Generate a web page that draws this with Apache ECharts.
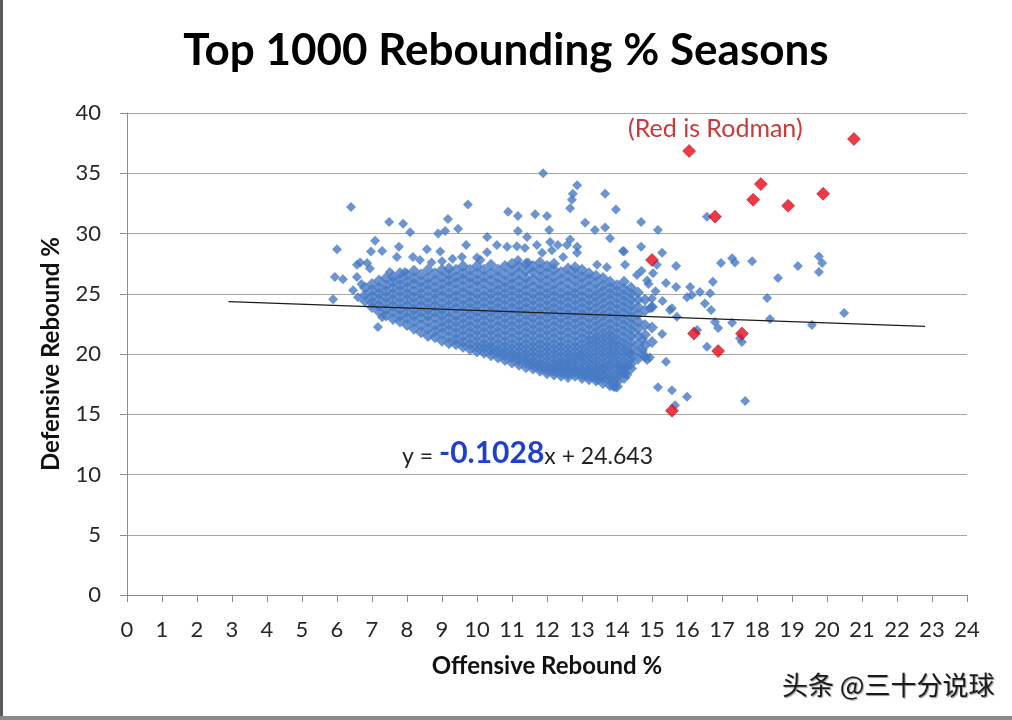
<!DOCTYPE html>
<html>
<head>
<meta charset="utf-8">
<script src="https://cdn.jsdelivr.net/npm/echarts@6/dist/echarts.min.js"></script>
<style>
html,body{margin:0;padding:0;background:#fff;}
#chart{width:1012px;height:720px;}
</style>
</head>
<body>
<div id="chart"></div>
<script>
// ---------- DATA ----------
const chartTitle = 'Top 1000 Rebounding % Seasons';
const xAxisName = 'Offensive Rebound %';
const yAxisName = 'Defensive Rebound %';
const xTicks = {min: 0, max: 24, step: 1};
const yTicks = {min: 0, max: 40, step: 5};

// Dense cloud of seasons, read column by column: [offensive %, [defensive % ...]]
const blueColumns = [
  [6.8, [24.4, 24.9, 25.5]],
  [7.0, [23.9, 24.3, 24.8, 25.3, 25.8]],
  [7.2, [23.5, 24.0, 24.5, 25.0, 25.5, 26.1]],
  [7.4, [23.2, 23.7, 24.2, 24.7, 25.2, 25.7, 26.3]],
  [7.6, [22.9, 23.5, 24.0, 24.5, 25.0, 25.5, 26.0, 26.4]],
  [7.8, [22.7, 23.2, 23.7, 24.2, 24.7, 25.2, 25.7, 26.2, 26.7]],
  [8.0, [22.4, 23.0, 23.5, 24.0, 24.5, 25.0, 25.5, 26.0, 26.6]],
  [8.2, [22.1, 22.7, 23.2, 23.7, 24.2, 24.7, 25.2, 25.8, 26.3, 26.9]],
  [8.4, [21.8, 22.4, 23.0, 23.5, 24.0, 24.5, 25.0, 25.5, 26.0, 26.6]],
  [8.6, [21.5, 22.1, 22.7, 23.2, 23.7, 24.2, 24.7, 25.3, 25.8, 26.3, 27.0]],
  [8.8, [21.4, 21.9, 22.4, 23.0, 23.5, 24.0, 24.5, 25.0, 25.5, 26.1, 26.7]],
  [9.0, [21.1, 21.7, 22.2, 22.7, 23.2, 23.7, 24.2, 24.8, 25.3, 25.8, 26.4, 27.0]],
  [9.2, [20.9, 21.4, 22.0, 22.5, 23.0, 23.5, 24.0, 24.5, 25.0, 25.6, 26.1, 26.6, 27.1]],
  [9.4, [20.8, 21.2, 21.7, 22.2, 22.7, 23.2, 23.8, 24.3, 24.8, 25.3, 25.9, 26.4, 27.0]],
  [9.6, [20.6, 21.0, 21.5, 22.0, 22.5, 23.0, 23.5, 24.0, 24.5, 25.1, 25.6, 26.2, 26.7, 27.3]],
  [9.8, [20.4, 20.8, 21.3, 21.8, 22.3, 22.8, 23.3, 23.8, 24.3, 24.8, 25.3, 25.9, 26.4, 27.0]],
  [10.0, [20.2, 20.6, 21.0, 21.5, 22.0, 22.5, 23.0, 23.5, 24.0, 24.5, 25.0, 25.6, 26.1, 26.7, 27.3]],
  [10.2, [20.1, 20.5, 20.8, 21.3, 21.8, 22.3, 22.8, 23.3, 23.8, 24.3, 24.8, 25.3, 25.9, 26.4, 27.0]],
  [10.4, [19.9, 20.3, 20.6, 21.0, 21.5, 22.0, 22.5, 23.0, 23.5, 24.0, 24.5, 25.0, 25.5, 26.1, 26.7, 27.4]],
  [10.6, [19.7, 20.1, 20.4, 20.8, 21.3, 21.8, 22.3, 22.8, 23.3, 23.8, 24.3, 24.8, 25.3, 25.8, 26.4, 27.0]],
  [10.8, [19.5, 19.9, 20.2, 20.6, 21.0, 21.5, 22.0, 22.5, 23.0, 23.5, 24.0, 24.5, 25.0, 25.5, 26.0, 26.6, 27.3]],
  [11.0, [19.3, 19.7, 20.0, 20.4, 20.8, 21.3, 21.8, 22.3, 22.8, 23.3, 23.8, 24.3, 24.8, 25.3, 25.8, 26.3, 26.9, 27.5]],
  [11.2, [19.1, 19.5, 19.8, 20.2, 20.6, 21.0, 21.5, 22.0, 22.5, 23.0, 23.5, 24.0, 24.5, 25.0, 25.5, 26.1, 26.7, 27.3]],
  [11.4, [18.9, 19.3, 19.6, 20.0, 20.4, 20.8, 21.3, 21.8, 22.3, 22.8, 23.3, 23.8, 24.3, 24.8, 25.3, 25.8, 26.3, 26.9, 27.5]],
  [11.6, [18.8, 19.1, 19.4, 19.8, 20.2, 20.6, 21.0, 21.5, 22.0, 22.5, 23.0, 23.5, 24.0, 24.5, 25.0, 25.6, 26.2, 26.8, 27.3]],
  [11.8, [18.6, 18.9, 19.2, 19.6, 20.0, 20.4, 20.8, 21.3, 21.8, 22.3, 22.8, 23.3, 23.8, 24.3, 24.8, 25.3, 25.8, 26.4, 27.0, 27.6]],
  [12.0, [18.4, 18.7, 19.0, 19.4, 19.8, 20.2, 20.6, 21.0, 21.5, 22.0, 22.5, 23.0, 23.5, 24.0, 24.5, 25.0, 25.5, 26.1, 26.7, 27.3]],
  [12.2, [18.3, 18.6, 18.9, 19.2, 19.6, 20.0, 20.4, 20.8, 21.3, 21.8, 22.3, 22.8, 23.3, 23.8, 24.3, 24.8, 25.3, 25.8, 26.4, 27.0, 27.5]],
  [12.4, [18.2, 18.5, 18.8, 19.1, 19.4, 19.8, 20.2, 20.6, 21.0, 21.5, 22.0, 22.5, 23.0, 23.5, 24.0, 24.5, 25.0, 25.6, 26.2, 26.8]],
  [12.6, [18.1, 18.4, 18.7, 19.0, 19.3, 19.6, 20.0, 20.4, 20.8, 21.3, 21.8, 22.3, 22.8, 23.3, 23.8, 24.3, 24.8, 25.3, 25.9, 26.5, 27.1]],
  [12.8, [18.2, 18.5, 18.8, 19.1, 19.5, 19.8, 20.2, 20.6, 21.0, 21.5, 22.0, 22.5, 23.0, 23.5, 24.0, 24.5, 25.0, 25.5, 26.1, 26.7, 27.2]],
  [13.0, [18.0, 18.3, 18.6, 18.9, 19.3, 19.7, 20.0, 20.4, 20.8, 21.3, 21.8, 22.3, 22.8, 23.3, 23.8, 24.3, 24.8, 25.3, 25.8, 26.4, 27.0]],
  [13.2, [17.9, 18.2, 18.5, 18.8, 19.2, 19.5, 19.9, 20.3, 20.7, 21.1, 21.5, 22.0, 22.5, 23.0, 23.5, 24.0, 24.5, 25.0, 25.6, 26.2, 26.7]],
  [13.4, [17.8, 18.1, 18.4, 18.7, 19.0, 19.4, 19.8, 20.2, 20.6, 21.0, 21.4, 21.8, 22.3, 22.8, 23.3, 23.8, 24.3, 24.8, 25.3, 25.9, 26.5]],
  [13.6, [17.6, 18.0, 18.3, 18.6, 18.9, 19.3, 19.7, 20.1, 20.5, 20.9, 21.3, 21.7, 22.2, 22.7, 23.2, 23.7, 24.2, 24.7, 25.2, 25.7, 26.3]],
  [13.8, [17.4, 17.8, 18.1, 18.5, 18.9, 19.2, 19.6, 20.0, 20.4, 20.8, 21.2, 21.6, 22.0, 22.5, 23.0, 23.5, 24.0, 24.5, 25.0, 25.5, 26.0]],
  [14.0, [17.3, 17.7, 18.1, 18.4, 18.8, 19.2, 19.6, 20.0, 20.4, 20.8, 21.2, 21.7, 22.2, 22.7, 23.2, 23.7, 24.2, 24.7, 25.2, 25.7]],
  [14.2, [18.0, 18.4, 18.9, 19.3, 19.7, 20.1, 20.5, 20.9, 21.4, 21.9, 22.4, 22.9, 23.4, 23.9, 24.4, 24.9, 25.4, 26.0]],
  [14.4, [18.8, 19.2, 19.6, 20.0, 20.5, 21.0, 21.5, 22.0, 22.5, 23.0, 23.5, 24.0, 24.5, 25.0, 25.5]],
  [14.6, [19.6, 20.2, 20.8, 21.5, 22.1, 22.7, 23.3, 23.9, 24.5, 25.1]],
  [14.8, [19.8, 20.7, 21.6, 22.4, 23.6, 24.5]],
  [15.0, [21.0, 22.2, 23.9]]
];

// Scattered seasons outside the dense cloud: [offensive %, defensive %]
const blueScatter = [
  [6.4, 32.2], [9.74, 32.4], [7.49, 30.95], [7.89, 30.8], [8.09, 30.1], [9.17, 31.2], [9.46, 30.4],
  [8.89, 30.0], [9.09, 30.2], [6.0, 28.7], [7.09, 29.4], [6.97, 28.5], [7.29, 28.55], [7.77, 28.9],
  [7.71, 28.05], [8.57, 28.7], [9.69, 29.05], [9.57, 28.05], [8.17, 28.05], [8.37, 27.8], [5.94, 26.4],
  [6.17, 26.2], [6.57, 26.4], [6.57, 27.4], [6.66, 27.6], [6.86, 27.55], [6.94, 27.1], [5.89, 24.55],
  [6.46, 25.3], [6.6, 24.7], [6.7, 25.8], [7.17, 22.25], [7.29, 23.05], [7.51, 26.8], [7.94, 26.8],
  [8.7, 27.6], [9.0, 27.7], [9.3, 27.9], [8.95, 28.5], [10.0, 28.0], [10.1, 27.8],
  [11.89, 35.0], [12.86, 34.0], [12.74, 33.3], [12.71, 32.8], [12.66, 32.1], [13.66, 33.3], [13.97, 32.0],
  [10.89, 31.8], [11.17, 31.45], [11.66, 31.6], [12.0, 31.45], [13.09, 30.9], [13.37, 30.3], [13.66, 30.5],
  [13.8, 29.6], [11.17, 30.2], [12.06, 30.3], [10.29, 29.7], [11.43, 29.7], [11.71, 29.05], [12.09, 29.3],
  [12.31, 29.05], [12.57, 29.05], [12.66, 29.5], [12.86, 28.9], [12.86, 28.4], [11.37, 28.8], [10.29, 28.45],
  [10.57, 29.05], [10.86, 28.9], [11.14, 28.95], [14.17, 28.55], [11.86, 28.4], [12.14, 28.6], [12.46, 28.05],
  [11.46, 27.6], [11.17, 27.8], [13.43, 27.4], [13.71, 27.2], [14.23, 27.4],
  [14.69, 30.95], [15.17, 30.3], [16.57, 31.4], [14.2, 28.5], [14.69, 28.9], [15.29, 28.4], [15.14, 27.4],
  [15.03, 26.7], [15.69, 27.3], [16.97, 27.55], [17.29, 27.95], [17.37, 27.6], [18.6, 26.3], [19.17, 27.3],
  [19.77, 28.1], [19.86, 27.55], [19.77, 26.8], [14.57, 26.55], [14.86, 26.1], [15.69, 25.55], [16.09, 25.55],
  [16.0, 24.7], [16.37, 25.15], [16.74, 26.0], [16.66, 25.05], [16.51, 24.2], [16.69, 23.65], [15.51, 23.65],
  [15.71, 23.1], [16.8, 22.65], [16.89, 22.15], [17.29, 22.6], [18.29, 24.65], [18.37, 22.9], [19.57, 22.4],
  [20.49, 23.4], [15.29, 21.65], [16.29, 22.0], [16.57, 20.6], [17.51, 21.3], [17.57, 21.0], [14.37, 20.1],
  [14.8, 19.75], [15.4, 19.35], [14.29, 18.9], [14.29, 18.25], [15.17, 17.25], [15.57, 17.0], [16.0, 16.45],
  [17.66, 16.1], [15.66, 15.75], [16.14, 24.9], [17.86, 27.7],
  [14.9, 25.8], [15.1, 25.2], [14.7, 26.9], [15.3, 24.4], [15.0, 24.6], [15.4, 25.9], [15.0, 23.9],
  [14.94, 23.8], [15.57, 23.8], [14.74, 21.2], [14.86, 19.5], [14.74, 20.3], [14.94, 19.7], [14.09, 18.9],
  [14.23, 18.4], [13.94, 17.25], [13.89, 17.3], [13.46, 17.85], [14.17, 18.5]
];

// Rodman seasons (red)
const rodman = [
  [16.06, 36.85], [20.77, 37.84], [18.11, 34.1], [17.89, 32.8], [18.89, 32.3], [19.89, 33.3],
  [16.8, 31.4], [15.0, 27.8], [16.2, 21.7], [17.57, 21.7], [16.89, 20.25], [15.57, 15.3]
];

// Linear trendline as drawn (start and end)
const trendLine = [[2.9, 24.34], [22.8, 22.30]];
const trendSlope = '-0.1028';
const trendIntercept = '24.643';
const noteText = '(Red is Rodman)';
const watermark = '头条 @三十分说球';

// ---------- BUILD ----------
const denseData = [];
blueColumns.forEach(([x, ys]) => ys.forEach(y => denseData.push([x, y])));

const FONT = 'Lato, "Open Sans", sans-serif';
const BLUE = '#4679c4';
const chart = echarts.init(document.getElementById('chart'), null, {renderer: 'canvas'});

chart.setOption({
  backgroundColor: '#ffffff',
  animation: false,
  title: {
    text: chartTitle,
    left: 'center',
    top: 24,
    textStyle: {fontFamily: FONT, fontSize: 44, fontWeight: 'bold', color: '#000'}
  },
  grid: {left: 127, right: 45, top: 113, bottom: 125, containLabel: false},
  xAxis: {
    type: 'value',
    min: xTicks.min, max: xTicks.max, interval: xTicks.step,
    name: xAxisName,
    nameLocation: 'middle',
    nameGap: 59,
    nameTextStyle: {fontFamily: FONT, fontSize: 24, fontWeight: 'bold', color: '#111'},
    axisLine: {show: true, lineStyle: {color: '#8c8c8c', width: 1}},
    axisTick: {show: true, inside: false, length: 7, lineStyle: {color: '#8c8c8c'}},
    axisLabel: {fontFamily: FONT, fontSize: 22, color: '#262626', margin: 24},
    splitLine: {show: false}
  },
  yAxis: {
    type: 'value',
    min: yTicks.min, max: yTicks.max, interval: yTicks.step,
    name: yAxisName,
    nameLocation: 'middle',
    nameGap: 64,
    nameTextStyle: {fontFamily: FONT, fontSize: 24, fontWeight: 'bold', color: '#111'},
    axisLine: {show: true, lineStyle: {color: '#8c8c8c', width: 1}},
    axisTick: {show: true, inside: false, length: 7, lineStyle: {color: '#8c8c8c'}},
    axisLabel: {fontFamily: FONT, fontSize: 22, color: '#262626', margin: 26},
    splitLine: {show: true, lineStyle: {color: '#a6a6a6', width: 1}}
  },
  series: [
    {
      name: 'All (dense)',
      type: 'scatter',
      data: denseData,
      symbol: 'diamond',
      symbolSize: 12,
      itemStyle: {color: BLUE},
      z: 2
    },
    {
      name: 'All (scattered)',
      type: 'scatter',
      data: blueScatter,
      symbol: 'diamond',
      symbolSize: 10,
      itemStyle: {color: BLUE},
      z: 2
    },
    {
      name: 'Trend',
      type: 'line',
      data: trendLine,
      showSymbol: false,
      symbol: 'none',
      lineStyle: {color: '#1c1c1c', width: 1.2},
      z: 3
    },
    {
      name: 'Rodman',
      type: 'scatter',
      data: rodman,
      symbol: 'diamond',
      symbolSize: 13,
      itemStyle: {color: '#e8071a', borderColor: '#9a0a12', borderWidth: 0.6},
      z: 4
    }
  ],
  graphic: [
    {
      type: 'text', left: 628, top: 116,
      style: {text: noteText, font: '25px ' + FONT, fill: '#c83a3a'}
    },
    {
      type: 'text', left: 402, top: 438,
      style: {
        text: '{a|y = }{b|' + trendSlope + '}{a|x + ' + trendIntercept + '}',
        rich: {
          a: {fontFamily: FONT, fontSize: 23, fill: '#222', color: '#222', verticalAlign: 'bottom'},
          b: {fontFamily: FONT, fontSize: 30, fontWeight: 'bold', fill: '#1f3fcf', color: '#1f3fcf', verticalAlign: 'bottom'}
        }
      }
    },
    {
      type: 'text', left: 782, top: 672,
      style: {
        text: watermark,
        font: '26px "Noto Sans CJK SC", sans-serif',
        fill: '#1a1a1a',
        textShadowColor: 'rgba(120,120,120,0.8)', textShadowBlur: 1, textShadowOffsetX: 1, textShadowOffsetY: 1
      }
    },
    {type: 'rect', left: 0, top: 0, shape: {width: 3, height: 720}, style: {fill: '#5a5a5a'}},
    {type: 'rect', left: 0, top: 716, shape: {width: 1012, height: 4}, style: {fill: '#8a8a8a'}}
  ]
});
</script>
</body>
</html>
